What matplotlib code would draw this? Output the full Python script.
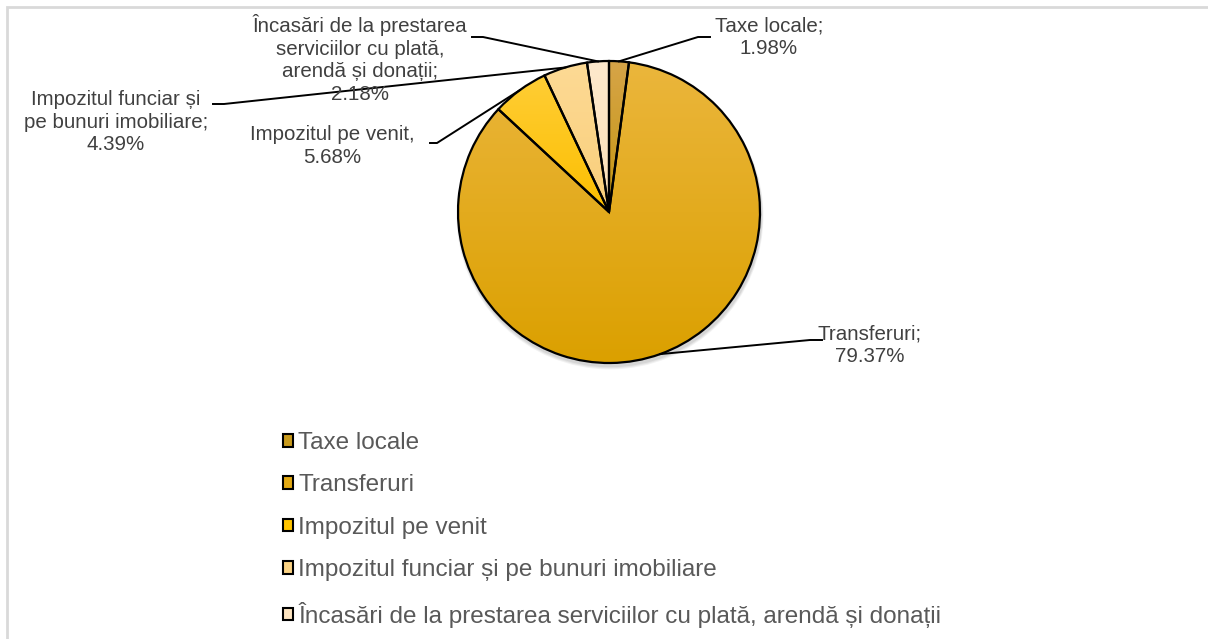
import numpy as np
import matplotlib
matplotlib.use('Agg')
import matplotlib.pyplot as plt
from matplotlib.patches import Patch, Rectangle
from matplotlib.colors import to_rgb

plt.rcParams['font.family'] = ['Liberation Sans', 'DejaVu Sans']

# date
categories = ['Taxe locale', 'Transferuri', 'Impozitul pe venit',
              'Impozitul funciar și pe bunuri imobiliare',
              'Încasări de la prestarea serviciilor cu plată, arendă și donații']
shares = [1.98, 79.37, 5.68, 4.39, 2.18]
label_names = ['Taxe locale;', 'Transferuri;', 'Impozitul pe venit,',
               'Impozitul funciar și\npe bunuri imobiliare;',
               'Încasări de la prestarea\nserviciilor cu plată,\narendă și donații;']
colors_top = ['#D6A448', '#EBB63C', '#FFCD35', '#FDDA95', '#FEE9CC']
colors_bot = ['#C59710', '#DBA000', '#FCBF00', '#F9CE7A', '#FCE0B8']
legend_colors = ['#C99B1E', '#E2A914', '#FFC400', '#FBD384', '#FDE4C0']

W, H = 1208, 639
fig = plt.figure(figsize=(W / 100, H / 100), dpi=100)
ax = fig.add_axes([0, 0, 1, 1])
ax.axis('off')

def py(y):  # y pixel din partea de sus
    return H - y

cx, cy, r = 609, py(212), 151

# chenar gri
ax.add_patch(Rectangle((6.5, -20), W + 40, py(6.5) + 20, fill=False,
                       edgecolor='#D9D9D9', lw=2, zorder=0))

# umbra
for k, a in [(4, 0.10), (3, 0.12), (2, 0.15)]:
    ax.add_patch(plt.Circle((cx + 1, cy - 2 - k * 0.5), r + k * 0.6,
                            color='#808080', alpha=a, lw=0, zorder=1))

wedges, _ = ax.pie(shares, startangle=90, counterclock=False, center=(cx, cy),
                   radius=r, wedgeprops=dict(edgecolor='black', linewidth=1.6))
for w, ct, cb in zip(wedges, colors_top, colors_bot):
    w.set_zorder(4)
    ext = w.get_path().get_extents()
    grad = np.linspace(0, 1, 200)[:, None, None]
    img = (1 - grad) * np.array(to_rgb(ct)) + grad * np.array(to_rgb(cb))
    im = ax.imshow(img, extent=[ext.x0, ext.x1, ext.y0, ext.y1], origin='upper',
                   aspect='auto', zorder=3, interpolation='bilinear')
    im.set_clip_path(w)
    w.set_facecolor('none')

# etichete de date: centru text, capat linie, cot
label_pos = [(769, 37), (870, 345), (332, 146), (116, 122), (360, 59)]
line_end = [(710, 37), (822, 340), (430, 143), (213, 104), (472, 37)]
elbow_x = [698, 810, 437, 224, 483]

for w, name, v, tp, le, ex in zip(wedges, label_names, shares, label_pos, line_end, elbow_x):
    mid = np.deg2rad((w.theta1 + w.theta2) / 2)
    px, pyy = cx + r * np.cos(mid), cy + r * np.sin(mid)
    ax.plot([le[0], ex, px], [py(le[1]), py(le[1]), pyy], color='black', lw=1.4, zorder=5)
    ax.text(tp[0], py(tp[1]), f'{name}\n{v:.2f}%', ha='center', va='center',
            fontsize=14.8, color='#404040', linespacing=1.25, zorder=6)

ax.set_xlim(0, W)
ax.set_ylim(0, H)

handles = [Patch(facecolor=c, edgecolor='black', lw=1.5) for c in legend_colors]
fig.legend(handles, categories, loc='upper left', bbox_to_anchor=(283 / W, py(432) / H),
           frameon=False, fontsize=17.5, labelcolor='#595959', borderpad=0,
           borderaxespad=0, handlelength=0.42, handleheight=0.42, handletextpad=0.2,
           labelspacing=0.84)

fig.savefig('out.png', dpi=100)
